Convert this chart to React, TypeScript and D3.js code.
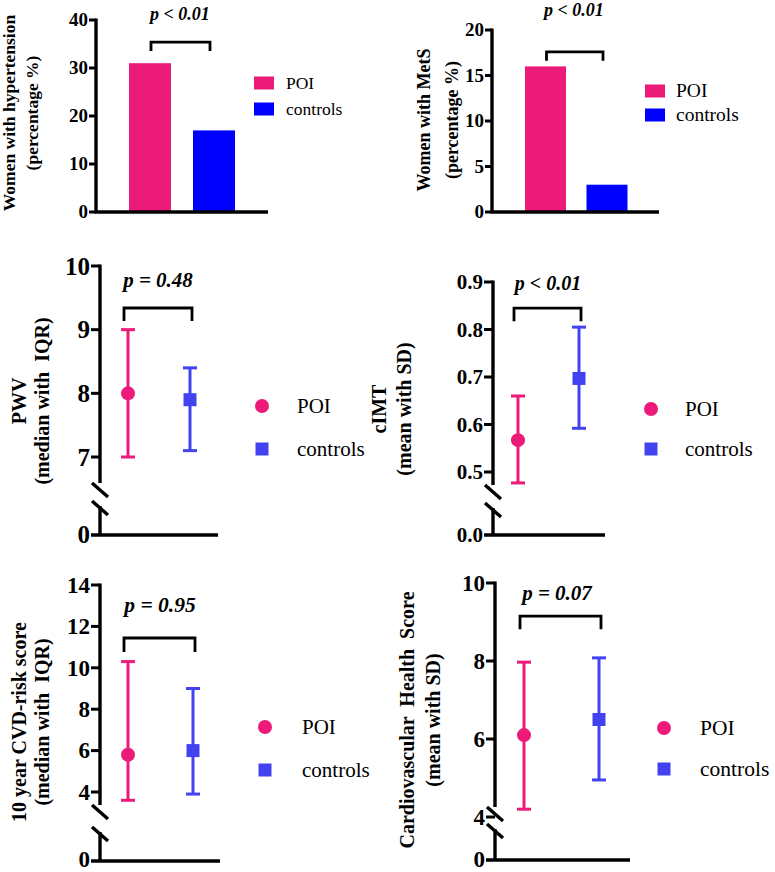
import React from "react";
import { scaleLinear, scalePoint } from "d3";

// groups + colours
const groups = ["POI", "controls"];
const PINK = "#EC1A78";
const BLUE_BAR = "#0000FF";
const BLUE = "#4242F0";
const SERIF = "Liberation Serif";
const H = 872;

// top panels: percentages
const hypertension = [31, 17];
const hypertensionTicks = [0, 10, 20, 30, 40];
const mets = [16, 3];
const metsTicks = [0, 5, 10, 15, 20];

// middle / bottom panels: centre with error range
const pwvMid = [8.0, 7.9];
const pwvLow = [7.0, 7.1];
const pwvHigh = [9.0, 8.4];
const pwvTicks = [7, 8, 9, 10];

const cimtMid = [0.567, 0.697];
const cimtLow = [0.477, 0.592];
const cimtHigh = [0.66, 0.805];
const cimtTicks = [0.5, 0.6, 0.7, 0.8, 0.9];

const cvdMid = [5.8, 6.0];
const cvdLow = [3.6, 3.9];
const cvdHigh = [10.3, 9.0];
const cvdTicks = [4, 6, 8, 10, 12, 14];

const chsMid = [6.1, 6.5];
const chsLow = [4.2, 4.95];
const chsHigh = [7.97, 8.08];
const chsTicks = [4, 6, 8, 10];

const pLabels = ["p < 0.01", "p < 0.01", "p = 0.48", "p < 0.01", "p = 0.95", "p = 0.07"];
// bracket heights in data units
const bracketLevels = [35.4, 17.6, 9.34, 0.845, 11.44, 9.15];

const YLabel = ({ cy, lines, size }: any) => (
  <g transform={`translate(0, ${cy})`} style={{ fontFamily: SERIF, fontWeight: "bold", fontSize: size }} textAnchor="middle">
    {lines.map((l: any, i: number) => (
      <text key={i} transform={`translate(${l.x + size * 0.35}, 0) rotate(-90)`} style={{ whiteSpace: "pre" }}>
        {l.text}
      </text>
    ))}
  </g>
);

const Bracket = ({ x1, x2, y, leg, label, textY, textX, size }: any) => (
  <g>
    <path d={`M${x1},${y + leg}V${y}H${x2}V${y + leg}`} fill="none" stroke="#000" strokeWidth={2.8} />
    <text x={textX} y={textY} textAnchor="middle" style={{ fontFamily: SERIF, fontWeight: "bold", fontStyle: "italic", fontSize: size }}>
      {label}
    </text>
  </g>
);

const tickStyle = (size: number) => ({ fontFamily: SERIF, fontWeight: "bold" as const, fontSize: size });
const legStyle = (size: number) => ({ fontFamily: SERIF, fontSize: size });

function BarPanel(props: any) {
  const { ax, xEnd, base, top, max, ticks, centers, barW, values, tickSize, bi, leg, textY, textX, pSize, legend } = props;
  const y = scaleLinear().domain([0, max]).range([base, top]);
  const x = scalePoint().domain(groups).range(centers);
  const colors = [PINK, BLUE_BAR];
  return (
    <g>
      {values.map((v: number, i: number) => (
        <rect key={i} x={x(groups[i])! - barW / 2} y={y(v)} width={barW} height={base - y(v)} fill={colors[i]} />
      ))}
      <line x1={ax} x2={ax} y1={top - 1.5} y2={base} stroke="#000" strokeWidth={3.4} />
      <line x1={ax - 1.5} x2={xEnd} y1={base} y2={base} stroke="#000" strokeWidth={3.4} />
      {ticks.map((t: number) => (
        <g key={t}>
          <line x1={ax - 7} x2={ax} y1={y(t)} y2={y(t)} stroke="#000" strokeWidth={3} />
          <text x={ax - 8} y={y(t) + tickSize * 0.34} textAnchor="end" style={tickStyle(tickSize)}>
            {t}
          </text>
        </g>
      ))}
      <Bracket x1={x(groups[0])! + 1} x2={x(groups[1])! - 4} y={y(bracketLevels[bi])} leg={leg} label={pLabels[bi]} textX={textX} textY={textY} size={pSize} />
      {groups.map((g, i) => (
        <g key={g}>
          <rect x={legend.x} y={legend.ys[i] - 6.5} width={20} height={13} fill={colors[i]} />
          <text x={legend.tx} y={legend.ys[i] + legend.size * 0.33} style={legStyle(legend.size)}>
            {g}
          </text>
        </g>
      ))}
    </g>
  );
}

function RangePanel(props: any) {
  const { ax, xEnd, base, domain, range, ticks, centers, mid, low, high, tickSize, zeroLabel, breakTop, gap, bi, leg, textY, textX, pSize, legend } = props;
  const y = scaleLinear().domain(domain).range(range);
  const x = scalePoint().domain(groups).range(centers);
  const colors = [PINK, BLUE];
  const topPx = y(domain[1]);
  const s1 = breakTop + 7;
  const s2 = s1 + gap;
  // keep the bottom "0" inside the page
  const zeroY = Math.min(base + tickSize * 0.33, H - tickSize * 0.23);
  return (
    <g>
      <line x1={ax} x2={ax} y1={topPx - 1.5} y2={breakTop} stroke="#000" strokeWidth={3.4} />
      <line x1={ax} x2={ax} y1={s2 - 2} y2={base} stroke="#000" strokeWidth={3.4} />
      {[s1, s2].map((c) => (
        <line key={c} x1={ax - 8} y1={c - 7} x2={ax + 8} y2={c + 7} stroke="#000" strokeWidth={3.4} />
      ))}
      <line x1={ax - 9} x2={xEnd} y1={base} y2={base} stroke="#000" strokeWidth={3.4} />
      <text x={ax - 10} y={zeroY} textAnchor="end" style={tickStyle(tickSize)}>
        {zeroLabel}
      </text>
      {ticks.map((t: number) => (
        <g key={t}>
          <line x1={ax - 9} x2={ax} y1={y(t)} y2={y(t)} stroke="#000" strokeWidth={3} />
          <text x={ax - 10} y={y(t) + tickSize * 0.34} textAnchor="end" style={tickStyle(tickSize)}>
            {t}
          </text>
        </g>
      ))}
      {groups.map((g, i) => {
        const cx = x(g)!;
        return (
          <g key={g} stroke={colors[i]} strokeWidth={3}>
            <line x1={cx} x2={cx} y1={y(low[i])} y2={y(high[i])} />
            <line x1={cx - 7} x2={cx + 7} y1={y(low[i])} y2={y(low[i])} />
            <line x1={cx - 7} x2={cx + 7} y1={y(high[i])} y2={y(high[i])} />
            {i === 0 ? (
              <circle cx={cx} cy={y(mid[i])} r={7} fill={colors[i]} stroke="none" />
            ) : (
              <rect x={cx - 6.5} y={y(mid[i]) - 6.5} width={13} height={13} fill={colors[i]} stroke="none" />
            )}
          </g>
        );
      })}
      <Bracket x1={x(groups[0])! - 4} x2={x(groups[1])! + 2} y={y(bracketLevels[bi])} leg={leg} label={pLabels[bi]} textX={textX} textY={textY} size={pSize} />
      {groups.map((g, i) => (
        <g key={g}>
          {i === 0 ? (
            <circle cx={legend.x} cy={legend.ys[i]} r={7} fill={colors[i]} />
          ) : (
            <rect x={legend.x - 6.5} y={legend.ys[i] - 6.5} width={13} height={13} fill={colors[i]} />
          )}
          <text x={legend.tx} y={legend.ys[i] + legend.size * 0.33} style={legStyle(legend.size)}>
            {g}
          </text>
        </g>
      ))}
    </g>
  );
}

export default function App() {
  return (
    <svg width={775} height={H} style={{ position: "absolute", left: 0, top: 0, background: "#fff", fontFamily: SERIF }}>
      <rect width={775} height={H} fill="#fff" />
      <BarPanel ax={96} xEnd={268} base={212} top={20} max={40} ticks={hypertensionTicks} centers={[150, 214]} barW={42}
        values={hypertension} tickSize={19} bi={0} leg={9} textX={180} textY={20} pSize={18}
        legend={{ x: 254, ys: [83, 109], tx: 286, size: 17.5 }} />
      <YLabel cy={113} size={17.5} lines={[{ x: 9, text: "Women with hypertension" }, { x: 32, text: "(percentage %)" }]} />

      <BarPanel ax={492} xEnd={659} base={212} top={30} max={20} ticks={metsTicks} centers={[545.5, 607]} barW={41}
        values={mets} tickSize={19} bi={1} leg={9} textX={574} textY={16} pSize={18}
        legend={{ x: 645, ys: [91, 115], tx: 676, size: 19.5 }} />
      <YLabel cy={120} size={18} lines={[{ x: 424, text: "Women with MetS" }, { x: 452, text: "(percentage %)" }]} />

      <RangePanel ax={100} xEnd={218} base={535} domain={[7, 10]} range={[457, 266]} ticks={pwvTicks} centers={[128, 190]}
        mid={pwvMid} low={pwvLow} high={pwvHigh} tickSize={25} zeroLabel="0" breakTop={483} gap={18}
        bi={2} leg={13} textX={158} textY={287} pSize={21}
        legend={{ x: 262, ys: [406, 449], tx: 297, size: 21 }} />
      <YLabel cy={401} size={20} lines={[{ x: 19, text: "PWV" }, { x: 42, text: "(median with  IQR)" }]} />

      <RangePanel ax={493} xEnd={605} base={535} domain={[0.5, 0.9]} range={[472, 282]} ticks={cimtTicks} centers={[518, 579]}
        mid={cimtMid} low={cimtLow} high={cimtHigh} tickSize={21} zeroLabel="0.0" breakTop={485} gap={18}
        bi={3} leg={13} textX={548} textY={290} pSize={20}
        legend={{ x: 651, ys: [409, 449], tx: 685, size: 21 }} />
      <YLabel cy={409} size={20} lines={[{ x: 379, text: "cIMT" }, { x: 404, text: "(mean with SD)" }]} />

      <RangePanel ax={100} xEnd={220} base={861} domain={[4, 14]} range={[792, 585]} ticks={cvdTicks} centers={[128, 193]}
        mid={cvdMid} low={cvdLow} high={cvdHigh} tickSize={23} zeroLabel="0" breakTop={805} gap={22}
        bi={4} leg={14} textX={160} textY={612} pSize={21.5}
        legend={{ x: 265, ys: [727, 770], tx: 302, size: 21 }} />
      <YLabel cy={722} size={20} lines={[{ x: 19, text: "10 year CVD-risk score" }, { x: 42, text: "(median with  IQR)" }]} />

      <RangePanel ax={495} xEnd={630} base={860} domain={[4, 10]} range={[817, 583]} ticks={chsTicks} centers={[524, 599]}
        mid={chsMid} low={chsLow} high={chsHigh} tickSize={23} zeroLabel="0" breakTop={807} gap={17}
        bi={5} leg={13} textX={557} textY={600} pSize={21}
        legend={{ x: 664, ys: [728, 769], tx: 700, size: 21.5 }} />
      <YLabel cy={720} size={20} lines={[{ x: 407, text: "Cardiovascular  Health  Score" }, { x: 433, text: "(mean with SD)" }]} />
    </svg>
  );
}
